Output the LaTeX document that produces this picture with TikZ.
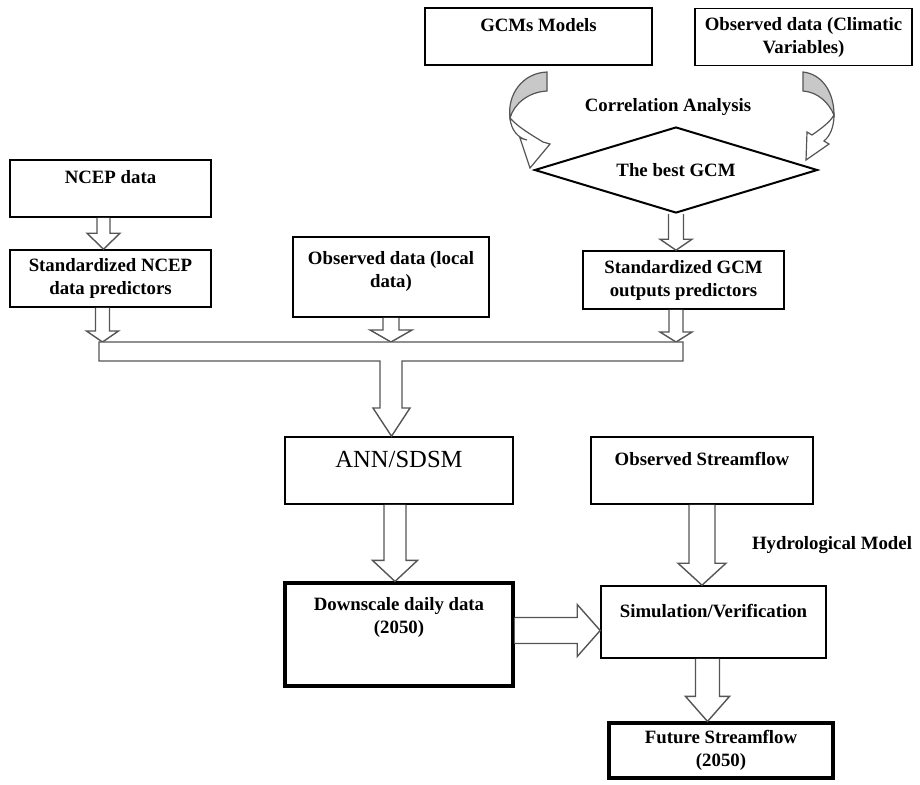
\documentclass[tikz,border=0pt]{standalone}
\usepackage{fontspec}
\setmainfont{Liberation Serif}
\usetikzlibrary{shapes.geometric, calc}
\definecolor{arrowgray}{RGB}{85,85,85}
\definecolor{bandgray}{RGB}{200,200,200}

\tikzset{
  box/.style={draw, line width=0.8pt, align=center, inner sep=2pt,
    font=\fontsize{9.4}{11.5}\selectfont\bfseries},
  thickbox/.style={box, line width=1.6pt},
  fatline/.style={draw=arrowgray, line width=0.7pt, fill=white},
  bendarrow/.style={draw=arrowgray, line width=0.6pt},
  plainlabel/.style={font=\fontsize{9.4}{11.5}\selectfont\bfseries},
}

% hollow block arrow: from, to, shaft half width, head half width, head length
\newcommand{\fatarrow}[5]{%
  \path ($(#2)!#5!(#1)$) coordinate (fatneck);
  \draw[fatline] ($(#1)!#3!90:(#2)$) -- ($(fatneck)!#3!90:(#2)$)
    -- ($(fatneck)!#4!90:(#2)$) -- (#2) -- ($(fatneck)!#4!-90:(#2)$)
    -- ($(fatneck)!#3!-90:(#2)$) -- ($(#1)!#3!-90:(#2)$);
}

\begin{document}
\begin{tikzpicture}[x=0.5pt, y=-0.5pt]
  \useasboundingbox (0,0) rectangle (920,784);

  % GCM selection
  \node[box, minimum width=113.5pt, minimum height=28.5pt] (gcm) at (538.5,36.5) {GCMs Models\\~};
  \node[box, minimum width=108.5pt, minimum height=28.5pt] (obsclim) at (803.5,37) {Observed data (Climatic\\Variables)};
  \node[plainlabel] (corr) at (668,107) {Correlation Analysis};
  \node[diamond, draw, line width=1pt, aspect=3.3, minimum width=141.5pt, minimum height=43pt,
    inner sep=0pt, plainlabel] (best) at (676,170) {The best GCM};

  % curved arrows into the diamond
  \filldraw[bendarrow, fill=bandgray] (547,72) .. controls (522,73) and (507,95) .. (510,118)
    .. controls (514,104) and (528,92) .. (547,91) -- cycle;
  \filldraw[bendarrow, fill=white] (510,118) .. controls (511,130) and (518,138) .. (527,140)
    -- (520,138) -- (530,168) -- (550,144) -- (543,142)
    .. controls (530,134) and (518,127) .. (510,118) -- cycle;
  \filldraw[bendarrow, fill=bandgray] (803,72) .. controls (822,74) and (834,92) .. (834,115)
    .. controls (829,103) and (818,92) .. (803,91) -- cycle;
  \filldraw[bendarrow, fill=white] (834,115) .. controls (834,127) and (830,136) .. (824,141)
    -- (829,144) -- (806,160) -- (807,132) -- (812,135)
    .. controls (822,128) and (830,122) .. (834,115) -- cycle;

  % predictors
  \node[box, minimum width=100.5pt, minimum height=28.5pt] (ncep) at (110.5,188.5) {NCEP data\\~};
  \node[box, minimum width=100.5pt, minimum height=28.5pt] (stdncep) at (110.5,278.5) {Standardized NCEP\\data predictors};
  \node[box, minimum width=98pt, minimum height=40pt] (obslocal) at (391,277) {Observed data (local\\data)\\[-4pt]~};
  \node[box, minimum width=100.5pt, minimum height=29pt] (stdgcm) at (683.5,280) {Standardized GCM\\outputs predictors};

  % downscaling and hydrology
  \node[box, font=\fontsize{12.3}{11}\selectfont, minimum width=114pt, minimum height=33.5pt] (ann) at (399,470.5) {ANN/SDSM\\~};
  \node[thickbox, minimum width=114pt, minimum height=51.5pt] (down) at (399,634.5) {Downscale daily data\\(2050)\\[7.5pt]~};
  \node[box, minimum width=111pt, minimum height=33.5pt] (obsstream) at (702,470.5) {Observed Streamflow\\~};
  \node[plainlabel] (hydro) at (832,545) {Hydrological Model};
  \node[box, minimum width=112.5pt, minimum height=36pt] (sim) at (713.5,622) {Simulation/Verification\\~};
  \node[thickbox, minimum width=112pt, minimum height=27.5pt] (future) at (721,750.5) {Future Streamflow\\(2050)};

  % hollow arrows
  \coordinate (bartop) at (0,342);
  \coordinate (ncepOut) at ([xshift=-3.5pt]ncep.south);
  \coordinate (stdncepIn) at (ncepOut |- stdncep.north);
  \coordinate (stdncepOut) at ([xshift=-4pt]stdncep.south);
  \coordinate (barA) at (stdncepOut |- bartop);
  \coordinate (barB) at (obslocal.south |- bartop);
  \coordinate (bestOut) at (best.south);
  \coordinate (stdgcmIn) at (bestOut |- stdgcm.north);
  \coordinate (stdgcmOut) at (bestOut |- stdgcm.south);
  \coordinate (barC) at (bestOut |- bartop);
  \fatarrow{ncepOut}{stdncepIn}{3.25pt}{8.25pt}{8pt}
  \fatarrow{stdncepOut}{barA}{3.5pt}{8pt}{5.5pt}
  \fatarrow{obslocal.south}{barB}{4pt}{10.5pt}{6pt}
  \fatarrow{bestOut}{stdgcmIn}{3.75pt}{8pt}{5.5pt}
  \fatarrow{stdgcmOut}{barC}{3.5pt}{8pt}{5pt}

  % merging bar into ANN/SDSM
  \coordinate (annIn) at ([xshift=-3.75pt]ann.north);
  \draw[fatline] (99,342) -- (683,342) -- (683,361) -- (402,361) -- (402,408) -- (410,408)
    -- (annIn) -- (373,408) -- (380,408) -- (380,361) -- (99,361) -- cycle;

  \coordinate (annOut) at ([xshift=-2pt]ann.south);
  \coordinate (downIn) at (annOut |- down.north);
  \fatarrow{annOut}{downIn}{5.5pt}{11.25pt}{10.5pt}
  \coordinate (streamOut) at (obsstream.south);
  \coordinate (simIn) at (streamOut |- sim.north);
  \fatarrow{streamOut}{simIn}{6.5pt}{12pt}{11pt}
  \coordinate (downOut) at ([yshift=2pt]down.east);
  \coordinate (simSide) at (downOut -| sim.west);
  \fatarrow{downOut}{simSide}{6.5pt}{13pt}{11.5pt}
  \coordinate (simOut) at ([xshift=-3pt]sim.south);
  \coordinate (futureIn) at (simOut |- future.north);
  \fatarrow{simOut}{futureIn}{6pt}{11pt}{12.5pt}
\end{tikzpicture}
\end{document}
